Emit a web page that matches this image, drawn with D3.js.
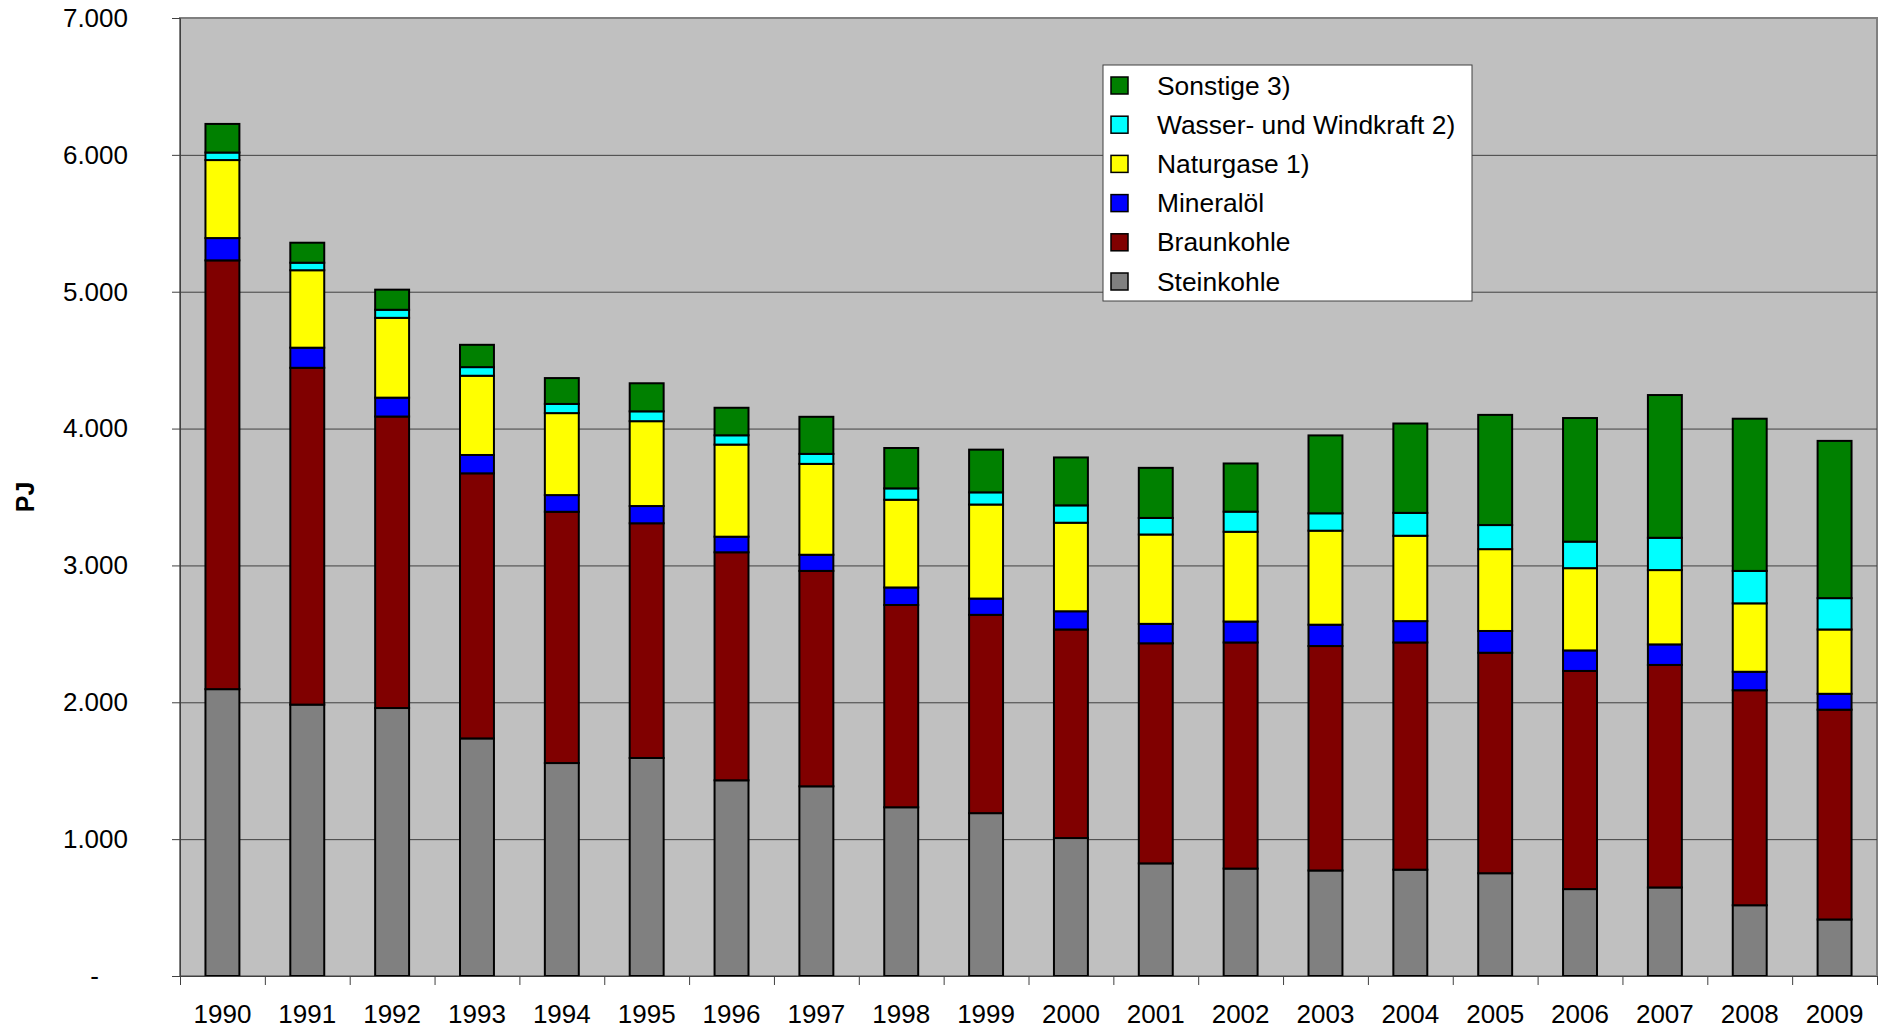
<!DOCTYPE html>
<html>
<head>
<meta charset="utf-8">
<script src="https://cdn.jsdelivr.net/npm/d3@7"></script>
<style>
  body { margin: 0; background: #fff; }
  svg { font-family: "Liberation Sans", Arial, sans-serif; }
</style>
</head>
<body>
<script>
// years on the x axis
var years = [1990, 1991, 1992, 1993, 1994, 1995, 1996, 1997, 1998, 1999,
             2000, 2001, 2002, 2003, 2004, 2005, 2006, 2007, 2008, 2009];

// series names, bottom to top of each stack
var seriesNames = ["Steinkohle", "Braunkohle", "Mineralöl", "Naturgase 1)",
                   "Wasser- und Windkraft 2)", "Sonstige 3)"];

// values in PJ
var steinkohle = [2096, 1983, 1958, 1736, 1556, 1593, 1430, 1386, 1233, 1190,
                  1008, 823, 785, 771, 777, 751, 635, 647, 517, 413];
var braunkohle = [3133, 2461, 2130, 1937, 1836, 1715, 1666, 1574, 1478, 1449,
                  1524, 1608, 1652, 1640, 1660, 1611, 1594, 1626, 1571, 1533];
var mineraloel = [163, 147, 138, 134, 122, 126, 114, 118, 128, 119,
                  133, 142, 153, 156, 156, 159, 150, 150, 135, 116];
var naturgase  = [570, 566, 583, 579, 599, 620, 673, 664, 641, 687,
                  647, 653, 656, 687, 624, 598, 601, 543, 500, 470];
var wasserWind = [55, 55, 59, 63, 67, 72, 68, 73, 83, 89,
                  127, 121, 147, 127, 167, 176, 194, 236, 237, 229];
var sonstige   = [209, 146, 147, 163, 189, 205, 201, 271, 295, 312,
                  350, 366, 352, 569, 653, 805, 903, 1043, 1112, 1149];

var yTicks = [0, 1000, 2000, 3000, 4000, 5000, 6000, 7000];

var colors = ["#808080", "#800000", "#0000ff", "#ffff00", "#00ffff", "#008000"];

var W = 1885, H = 1030;
var plotLeft = 180, plotRight = 1877, plotTop = 18, plotBottom = 976;

var seriesValues = [steinkohle, braunkohle, mineraloel, naturgase, wasserWind, sonstige];

// build rows for d3.stack
var rows = years.map(function(y, i) {
  var r = { year: y };
  seriesNames.forEach(function(n, k) { r[n] = seriesValues[k][i]; });
  return r;
});
var stacked = d3.stack().keys(seriesNames)(rows);

var svg = d3.select("body").append("svg")
  .attr("width", W)
  .attr("height", H);

var x = d3.scaleBand()
  .domain(years)
  .range([plotLeft, plotRight])
  .paddingInner(0.6)
  .paddingOuter(0.3);

var y = d3.scaleLinear().domain([0, 7000]).range([plotBottom, plotTop]);

// plot area
svg.append("rect")
  .attr("x", plotLeft).attr("y", plotTop)
  .attr("width", plotRight - plotLeft).attr("height", plotBottom - plotTop)
  .attr("fill", "#c0c0c0")
  .attr("stroke", "#808080")
  .attr("stroke-width", 2);

// gridlines
svg.append("g")
  .selectAll("line")
  .data(yTicks.slice(1, -1))
  .join("line")
  .attr("x1", plotLeft).attr("x2", plotRight)
  .attr("y1", function(d) { return y(d) + 0.5; })
  .attr("y2", function(d) { return y(d) + 0.5; })
  .attr("stroke", "#404040")
  .attr("stroke-width", 1);

// bars
svg.append("g")
  .selectAll("g")
  .data(stacked)
  .join("g")
  .attr("fill", function(d, i) { return colors[i]; })
  .selectAll("rect")
  .data(function(d) { return d; })
  .join("rect")
  .attr("x", function(d) { return x(d.data.year); })
  .attr("y", function(d) { return y(d[1]); })
  .attr("width", x.bandwidth())
  .attr("height", function(d) { return y(d[0]) - y(d[1]); })
  .attr("stroke", "#000")
  .attr("stroke-width", 2);

// y axis
var yAxis = d3.axisLeft(y)
  .tickValues(yTicks)
  .tickSize(8)
  .tickPadding(44)
  .tickFormat(function(d) {
    return d === 0 ? "-" : d3.format(",")(d).replace(",", ".");
  });

var gy = svg.append("g")
  .attr("transform", "translate(" + plotLeft + ",0)")
  .call(yAxis);
gy.select(".domain").attr("stroke", "#404040");
gy.selectAll(".tick line").attr("stroke", "#404040");
gy.selectAll("text")
  .attr("font-size", 26)
  .attr("font-family", "Liberation Sans, Arial, sans-serif")
  .attr("fill", "#000");
gy.selectAll(".tick").filter(function(d) { return d === 0; })
  .select("text").attr("x", -81);

// x axis: ticks between categories
var xb = d3.scaleLinear().domain([0, years.length]).range([plotLeft, plotRight]);
var gxTicks = svg.append("g")
  .attr("transform", "translate(0," + plotBottom + ")")
  .call(d3.axisBottom(xb).tickValues(d3.range(years.length + 1)).tickSize(9).tickFormat(""));
gxTicks.select(".domain").attr("stroke", "#404040");
gxTicks.selectAll(".tick line").attr("stroke", "#404040");

var gx = svg.append("g")
  .attr("transform", "translate(0," + plotBottom + ")")
  .call(d3.axisBottom(x).tickSize(0).tickPadding(29));
gx.select(".domain").remove();
gx.selectAll("text")
  .attr("font-size", 26)
  .attr("font-family", "Liberation Sans, Arial, sans-serif")
  .attr("fill", "#000");

// y label
svg.append("text")
  .attr("transform", "translate(34,497) rotate(-90)")
  .attr("text-anchor", "middle")
  .attr("font-size", 25)
  .attr("font-weight", "bold")
  .text("PJ");

// legend
var legend = svg.append("g");
legend.append("rect")
  .attr("x", 1103).attr("y", 65)
  .attr("width", 369).attr("height", 236)
  .attr("fill", "#fff")
  .attr("stroke", "#404040")
  .attr("stroke-width", 1);

var legendItems = seriesNames.slice().reverse();
var legendColors = colors.slice().reverse();

var li = legend.selectAll("g.item")
  .data(legendItems)
  .join("g")
  .attr("class", "item")
  .attr("transform", function(d, i) { return "translate(0," + (85 + i * 39.2) + ")"; });

li.append("rect")
  .attr("x", 1111).attr("y", -8)
  .attr("width", 17).attr("height", 17)
  .attr("fill", function(d, i) { return legendColors[i]; })
  .attr("stroke", "#000")
  .attr("stroke-width", 1.5);

li.append("text")
  .attr("x", 1157)
  .attr("dy", "0.36em")
  .attr("font-size", 26.4)
  .text(function(d) { return d; });
</script>
</body>
</html>
